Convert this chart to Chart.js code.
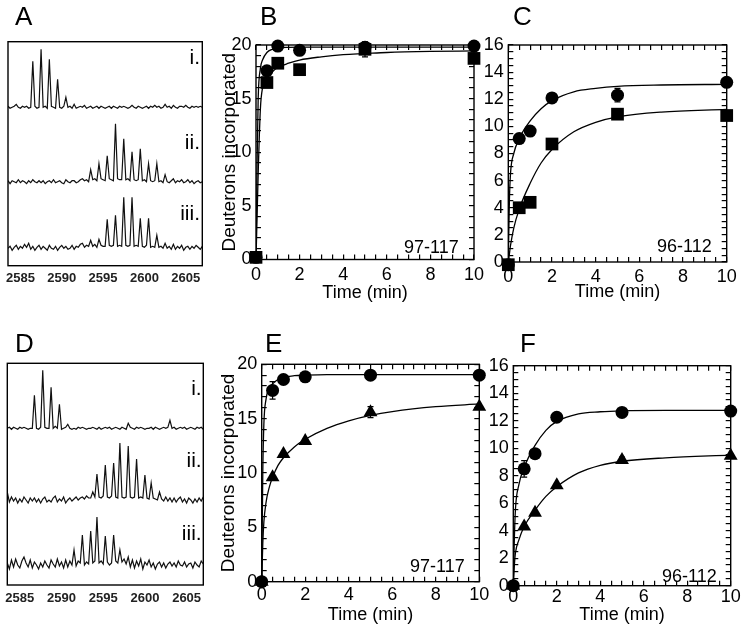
<!DOCTYPE html>
<html>
<head>
<meta charset="utf-8">
<script src="https://cdn.jsdelivr.net/npm/chart.js@4/dist/chart.umd.min.js"></script>
<style>
  body { margin: 0; background: #fff; width: 743px; height: 630px; position: relative; overflow: hidden;
         font-family: "Liberation Sans", Arial, sans-serif; color: #000; }
  canvas { position: absolute; }
  .t { position: absolute; line-height: 1; white-space: nowrap; }
</style>
</head>
<body>
<script>
// --- datos ---
const TIME = [0, 0.5, 1, 2, 5, 10];
const X_TICKS = [0, 2, 4, 6, 8, 10];
const Y_TICKS_20 = [0, 5, 10, 15, 20];
const Y_TICKS_16 = [0, 2, 4, 6, 8, 10, 12, 14, 16];
const MZ_TICKS = [2585, 2590, 2595, 2600, 2605];
const MZ_START = 2583.5;
const MZ_STEP = 0.25;

// espectros (intensidad sobre la línea base), un valor cada 0.25 m/z desde 2583.5
const A_I = [1,-1,0,1, 3,0,-1,1, 0,1,-1,0, 46,1,-1,0, 58,0,1,-1, 48,1,0,-1, 28,0,-1,1, 10,0,1,-1, 3,-1,0,1, 0,2,-1,0, 1,-1,0,1, -1,1,0,-1, 0,1,-1,1, 0,-1,1,0, 1,0,-1,0, 2,0,-1,1, 0,-1,0,1, -1,1,0,2, 0,1,-1,0, 3,0,1,-1, 2,0,-1,1, 1,0,2,0, -1,1,0,1, 0,1,0];
const A_II = [1,-2,1,0, -1,2,-1,1, 0,-2,1,-1, 2,0,-1,1, -1,1,-2,0, 1,-1,2,-1, 0,1,-1,-2, 2,0,-1,1, 1,-1,0,2, 3,1,2,0, 12,2,3,1, 18,3,2,1, 26,3,2,1, 58,3,2,2, 43,2,3,1, 30,2,1,2, 33,1,2,0, 18,1,0,1, 18,0,1,-1, 7,0,-1,1, 3,-1,1,0, 2,-1,0,2, -1,1,-2,0, 1,-1,0];
const A_III = [0,2,-2,1, 3,-1,2,0, 4,1,5,-1, 2,-2,1,3, -1,2,0,-2, 3,0,-1,2, -2,1,3,0, 2,-1,0,3, -1,2,1,4, 5,1,3,2, 8,2,4,1, 9,3,2,2, 29,3,2,3, 33,2,3,2, 51,3,2,3, 51,2,3,2, 30,2,1,3, 30,1,2,1, 13,1,2,0, 5,0,2,-1, 4,-1,2,0, 3,-2,1,2, -1,2,0,3, 1,-1,2];
const D_I = [0,1,-1,1, 0,-1,1,0, 1,0,-1,0, 0,33,0,-1, 1,58,1,0, 0,41,0,2, 0,24,-1,0, 1,4,0,-1, 0,-1,1,0, 1,0,-1,0, 0,1,0,-1, 1,-1,0,1, 0,1,-1,0, 1,0,-1,1, 0,-1,5,1, 0,-1,1,0, 1,0,-1,0, 0,1,-1,1, 0,-1,0,1, 0,1,8,0, 1,-1,0,1, 0,1,-1,0, 1,0,-1,1, 0,1,-1];
const D_II = [8,-2,3,-1, 2,-3,1,-2, 3,0,-3,2, -1,2,-2,1, -3,1,3,-2, 0,-2,2,4, -2,1,-1,3, -3,0,2,-1, 1,3,0,2, 3,1,4,2, 2,8,3,26, 3,2,4,35, 3,2,4,37, 3,2,57,3, 2,3,54,3, 2,3,41,2, 3,2,25,2, 1,17,2,1, 0,8,1,-1, 3,-1,2,-2, 2,-2,1,3, -2,1,-3,2, 0,-3,1,-2, 2,-1,3];
const D_III = [2,-4,5,-2, 6,0,-3,4, 8,2,-2,5, -3,3,0,-4, 2,-2,4,0, -3,5,1,-2, 6,-1,3,-3, 5,-2,4,0, 15,-1,4,2, 30,0,3,1, 34,2,4,48, 2,4,1,29, 3,0,2,30, 4,2,15,3, 6,1,8,-2, 5,-3,4,-1, 6,-4,3,0, 5,-2,2,-4, 1,3,-2,2, -3,1,3,-1, 2,-2,4,0, -1,3,-2,1, 2,-3,3,0, -2,4,1];

// cinéticas
const B_CIRCLE = [0.2, 17.6, 19.9, 19.5, 19.8, 19.9];
const B_CIRCLE_ERR = [0, 0.3, 0, 0, 0.3, 0];
const B_SQUARE = [0.2, 16.5, 18.3, 17.7, 19.6, 18.75];
const B_SQUARE_ERR = [0, 0.3, 0.4, 0.4, 0.7, 0.3];
const C_CIRCLE = [-0.2, 9.1, 9.65, 12.1, 12.3, 13.25];
const C_CIRCLE_ERR = [0, 0.2, 0.2, 0.2, 0.5, 0.2];
const C_SQUARE = [-0.2, 4.0, 4.4, 8.7, 10.9, 10.8];
const C_SQUARE_ERR = [0, 0.2, 0.3, 0.4, 0.2, 0.3];
const E_CIRCLE = [0, 17.6, 18.6, 18.85, 19.0, 19.0];
const E_CIRCLE_ERR = [0, 0.8, 0, 0, 0, 0];
const E_TRIANGLE = [0, 9.6, 11.75, 12.95, 15.6, 16.1];
const E_TRIANGLE_ERR = [0, 0, 0, 0, 0.5, 0];
const F_CIRCLE = [0, 8.5, 9.6, 12.25, 12.6, 12.7];
const F_CIRCLE_ERR = [0, 0.6, 0.3, 0, 0, 0];
const F_TRIANGLE = [0, 4.3, 5.3, 7.3, 9.15, 9.45];
const F_TRIANGLE_ERR = [0, 0, 0, 0, 0.2, 0];

// curvas de ajuste
const FIT_T_B = [0, 0.05, 0.1, 0.2, 0.3, 0.5, 0.75, 1, 1.5, 2, 3, 4, 5, 6, 8, 10];
const B_CIRCLE_FIT = [0, 9, 15, 17.8, 18.6, 19.3, 19.6, 19.72, 19.78, 19.8, 19.8, 19.8, 19.8, 19.8, 19.8, 19.8];
const B_SQUARE_FIT = [0, 4, 8, 14, 16, 16.9, 17.5, 17.9, 18.3, 18.6, 18.9, 19.1, 19.2, 19.3, 19.4, 19.45];
const FIT_T_C = [0, 0.05, 0.1, 0.25, 0.5, 1, 1.5, 2, 3, 4, 5, 7, 10];
const C_CIRCLE_FIT = [0, 4.5, 6.5, 8.0, 9.1, 10.4, 11.3, 11.9, 12.55, 12.8, 12.95, 13.05, 13.1];
const C_SQUARE_FIT = [0, 0.6, 1.2, 2.5, 3.9, 5.8, 7.3, 8.3, 9.6, 10.3, 10.7, 11.05, 11.25];
const FIT_T_E = [0, 0.05, 0.1, 0.2, 0.35, 0.5, 0.75, 1, 1.5, 2, 3, 4, 5, 6, 8, 10];
const E_CIRCLE_FIT = [0, 10, 14.5, 16.8, 17.8, 18.2, 18.6, 18.8, 18.95, 19.0, 19.05, 19.05, 19.05, 19.05, 19.05, 19.05];
const E_TRIANGLE_FIT = [0, 3.5, 5.5, 7.3, 8.7, 9.6, 10.7, 11.4, 12.4, 13.1, 14.1, 14.8, 15.3, 15.65, 16.1, 16.35];
const FIT_T_F = [0, 0.05, 0.1, 0.25, 0.5, 1, 1.5, 2, 3, 4, 5, 7, 10];
const F_CIRCLE_FIT = [0, 3.5, 5.6, 7.3, 8.6, 10.2, 11.3, 11.95, 12.5, 12.65, 12.72, 12.75, 12.75];
const F_TRIANGLE_FIT = [0, 1.5, 2.4, 3.3, 4.3, 5.5, 6.5, 7.2, 8.2, 8.75, 9.05, 9.3, 9.5];

// --- configuración común ---
Chart.defaults.font.family = '"Liberation Sans", Arial, sans-serif';
Chart.defaults.color = "#000";

const TICK_LEN = 5; // marcas hacia dentro

// posiciones de las marcas menores de un eje
const steps = (max, step) => {
  const out = [];
  for (let i = 0; i * step <= max + 1e-9; i++) out.push(Math.round(i * step * 100) / 100);
  return out;
};

// barras de error y marco
const decor = {
  id: "decor",
  beforeDatasetsDraw(chart) {
    const { ctx, scales: { x, y } } = chart;
    ctx.save();
    ctx.strokeStyle = "#000";
    ctx.lineWidth = 1.2;
    chart.data.datasets.forEach((ds) => {
      if (!ds.errors) return;
      ds.data.forEach((p, j) => {
        const e = ds.errors[j];
        if (!e) return;
        const px = x.getPixelForValue(p.x);
        const top = y.getPixelForValue(p.y + e);
        const bot = y.getPixelForValue(p.y - e);
        ctx.beginPath();
        ctx.moveTo(px, top); ctx.lineTo(px, bot);
        ctx.moveTo(px - 3, top); ctx.lineTo(px + 3, top);
        ctx.moveTo(px - 3, bot); ctx.lineTo(px + 3, bot);
        ctx.stroke();
      });
    });
    ctx.restore();
  },
  afterDraw(chart) {
    const { ctx, chartArea: a } = chart;
    ctx.save();
    ctx.strokeStyle = "#000";
    ctx.lineWidth = 1.4;
    ctx.strokeRect(a.left, a.top, a.width, a.height);
    ctx.restore();
  },
};

function makeCanvas(id, x, y, w, h) {
  const c = document.createElement("canvas");
  c.id = id;
  c.width = w;
  c.height = h;
  c.style.left = x + "px";
  c.style.top = y + "px";
  c.style.width = w + "px";
  c.style.height = h + "px";
  document.body.appendChild(c);
  return c;
}

function addText(str, x, baseline, size, align) {
  const d = document.createElement("div");
  d.className = "t";
  d.textContent = str;
  d.style.fontSize = size + "px";
  d.style.top = (baseline - 0.8465 * size) + "px";
  if (align === "right") {
    d.style.left = (x - 200) + "px";
    d.style.width = "200px";
    d.style.textAlign = "right";
  } else {
    d.style.left = x + "px";
  }
  document.body.appendChild(d);
}

const pts = (xs, ys) => xs.map((v, i) => ({ x: v, y: ys[i] }));

// sin relleno extra por etiquetas en los extremos: el área queda donde se pide
const fitX = (h) => (s) => { s.height = h; s.paddingLeft = 0; s.paddingRight = 0; };
const fitY = (w) => (s) => { s.width = w; s.paddingTop = 0; s.paddingBottom = 0; };

// marcas hacia dentro dibujadas por la propia escala
const innerGrid = {
  display: true, drawOnChartArea: false, drawTicks: true, tickLength: -TICK_LEN,
  color: "#000", tickColor: "#000", tickWidth: 1.2, lineWidth: 1.2,
};

// --- espectros (A, D) ---
function spectrum(id, g, traces) {
  const [cx, cy, cw, ch] = g.cv;
  const [l, t, r, b] = g.box;
  const canvas = makeCanvas(id, cx, cy, cw, ch);
  const datasets = traces.map((tr) => ({
    data: tr.vals.map((v, i) => ({ x: MZ_START + i * MZ_STEP, y: v + tr.base })),
    showLine: true,
    pointRadius: 0,
    borderColor: "#111",
    borderWidth: 1.2,
    tension: 0,
  }));
  return new Chart(canvas, {
    type: "scatter",
    data: { datasets },
    options: {
      responsive: false,
      animation: false,
      devicePixelRatio: 1,
      events: [],
      layout: { padding: { left: l - cx, top: t - cy, right: cx + cw - r, bottom: 0 } },
      plugins: { legend: { display: false }, tooltip: { enabled: false } },
      scales: {
        x: {
          type: "linear",
          min: MZ_START,
          max: 2607,
          afterBuildTicks: (s) => { s.ticks = MZ_TICKS.map((v) => ({ value: v })); },
          afterFit: fitX(cy + ch - b),
          grid: { display: false, drawTicks: false },
          border: { display: false },
          ticks: { font: { size: 13, weight: "bold" }, color: "#222", padding: g.labelPad,
                   maxRotation: 0, autoSkip: false, callback: (v) => String(v) },
        },
        y: { display: false, min: 0, max: b - t },
      },
    },
    plugins: [decor],
  });
}

// --- cinéticas (B, C, E, F) ---
function kinetics(id, g, o) {
  const [cx, cy, cw, ch] = g.cv;
  const [l, t, r, b] = g.box;
  const canvas = makeCanvas(id, cx, cy, cw, ch);
  const datasets = [];
  o.fits.forEach((f) => datasets.push({
    data: pts(o.fitT, f), showLine: true, pointRadius: 0, borderColor: "#000",
    borderWidth: 1.3, cubicInterpolationMode: "monotone",
  }));
  o.series.forEach((s) => datasets.push({
    data: pts(TIME, s.values), errors: s.errors, showLine: false,
    pointStyle: s.style, pointRadius: s.radius, backgroundColor: "#000",
    borderColor: "#000", borderWidth: 0, clip: false,
  }));
  const xMinor = steps(10, 0.5);
  const yMinor = steps(o.yMax, o.yStep);
  const setTicks = (list) => (s) => { s.ticks = list.map((v) => ({ value: v })); };
  return new Chart(canvas, {
    type: "scatter",
    data: { datasets },
    options: {
      responsive: false,
      animation: false,
      devicePixelRatio: 1,
      events: [],
      layout: { padding: { left: 0, top: t - cy, right: cx + cw - r, bottom: 0 } },
      plugins: { legend: { display: false }, tooltip: { enabled: false } },
      scales: {
        x: {
          type: "linear", position: "bottom", min: 0, max: 10,
          afterBuildTicks: setTicks(xMinor),
          afterFit: fitX(cy + ch - b),
          grid: innerGrid,
          border: { display: false },
          ticks: { font: { size: 18 }, padding: g.labelPad + TICK_LEN, maxRotation: 0, autoSkip: false,
                   callback: (v) => (X_TICKS.includes(v) ? String(v) : "") },
          title: { display: true, text: "Time (min)", font: { size: 18 }, padding: { top: 0, bottom: g.titlePad } },
        },
        x2: {
          type: "linear", position: "top", min: 0, max: 10,
          afterBuildTicks: setTicks(xMinor),
          afterFit: fitX(0),
          grid: innerGrid,
          border: { display: false },
          ticks: { display: false },
        },
        y: {
          type: "linear", position: "left", min: 0, max: o.yMax,
          afterBuildTicks: setTicks(yMinor),
          afterFit: fitY(l - cx),
          grid: innerGrid,
          border: { display: false },
          ticks: { font: { size: 18 }, padding: 4.5 + TICK_LEN, autoSkip: false,
                   callback: (v) => (o.yTicks.includes(v) ? String(v) : "") },
          title: g.yTitle
            ? { display: true, text: "Deuterons incorporated", font: { size: 19 }, padding: { top: g.yTitle - cx - 11.4, bottom: 0 } }
            : { display: false },
        },
        y2: {
          type: "linear", position: "right", min: 0, max: o.yMax,
          afterBuildTicks: setTicks(yMinor),
          afterFit: fitY(0),
          grid: innerGrid,
          border: { display: false },
          ticks: { display: false },
        },
      },
    },
    plugins: [decor],
  });
}

spectrum("chartA", { cv: [0, 30, 215, 265], box: [8, 41.7, 202.3, 265.7], labelPad: 4.8 }, [
  { vals: A_I, base: 158.4 },
  { vals: A_II, base: 84 },
  { vals: A_III, base: 17.4 },
]);

kinetics("chartB", { cv: [206, 30, 290, 280], box: [256, 45, 474, 259.5], labelPad: 4.7, titlePad: 6.2, yTitle: 230 }, {
  yMax: 20, yStep: 1, yTicks: Y_TICKS_20, fitT: FIT_T_B,
  fits: [B_CIRCLE_FIT, B_SQUARE_FIT],
  series: [
    { values: B_SQUARE, errors: B_SQUARE_ERR, style: "rect", radius: 9 },
    { values: B_CIRCLE, errors: B_CIRCLE_ERR, style: "circle", radius: 6.5 },
  ],
});

kinetics("chartC", { cv: [470, 30, 273, 280], box: [508.3, 45, 726.7, 262], labelPad: 3.9, titlePad: 7.5 }, {
  yMax: 16, yStep: 0.5, yTicks: Y_TICKS_16, fitT: FIT_T_C,
  fits: [C_CIRCLE_FIT, C_SQUARE_FIT],
  series: [
    { values: C_SQUARE, errors: C_SQUARE_ERR, style: "rect", radius: 9 },
    { values: C_CIRCLE, errors: C_CIRCLE_ERR, style: "circle", radius: 6.5 },
  ],
});

spectrum("chartD", { cv: [0, 350, 215, 270], box: [7.3, 363.3, 203.3, 585], labelPad: 5.5 }, [
  { vals: D_I, base: 156.7 },
  { vals: D_II, base: 85 },
  { vals: D_III, base: 20 },
]);

kinetics("chartE", { cv: [206, 350, 295, 280], box: [261.7, 364.3, 479.3, 581.7], labelPad: 2.5, titlePad: 4.2, yTitle: 228.3 }, {
  yMax: 20, yStep: 1, yTicks: Y_TICKS_20, fitT: FIT_T_E,
  fits: [E_CIRCLE_FIT, E_TRIANGLE_FIT],
  series: [
    { values: E_TRIANGLE, errors: E_TRIANGLE_ERR, style: "triangle", radius: 8 },
    { values: E_CIRCLE, errors: E_CIRCLE_ERR, style: "circle", radius: 6.5 },
  ],
});

kinetics("chartF", { cv: [475, 350, 268, 280], box: [513.3, 365.7, 730.7, 585.7], labelPad: 1, titlePad: 4.2 }, {
  yMax: 16, yStep: 0.5, yTicks: Y_TICKS_16, fitT: FIT_T_F,
  fits: [F_CIRCLE_FIT, F_TRIANGLE_FIT],
  series: [
    { values: F_TRIANGLE, errors: F_TRIANGLE_ERR, style: "triangle", radius: 8 },
    { values: F_CIRCLE, errors: F_CIRCLE_ERR, style: "circle", radius: 6.5 },
  ],
});

// --- rótulos ---
addText("A", 15, 25, 26);
addText("B", 260, 25, 26);
addText("C", 513, 25, 26);
addText("D", 15, 352, 26);
addText("E", 265, 352, 26);
addText("F", 520, 352, 26);

addText("i.", 200, 63.3, 21, "right");
addText("ii.", 200, 148.3, 21, "right");
addText("iii.", 200, 220, 21, "right");
addText("i.", 201.7, 395, 21, "right");
addText("ii.", 201.7, 466.7, 21, "right");
addText("iii.", 201.7, 540, 21, "right");

addText("97-117", 404, 253, 18);
addText("96-112", 657, 252, 18);
addText("97-117", 410, 572, 18);
addText("96-112", 662, 582, 18);
</script>
</body>
</html>
